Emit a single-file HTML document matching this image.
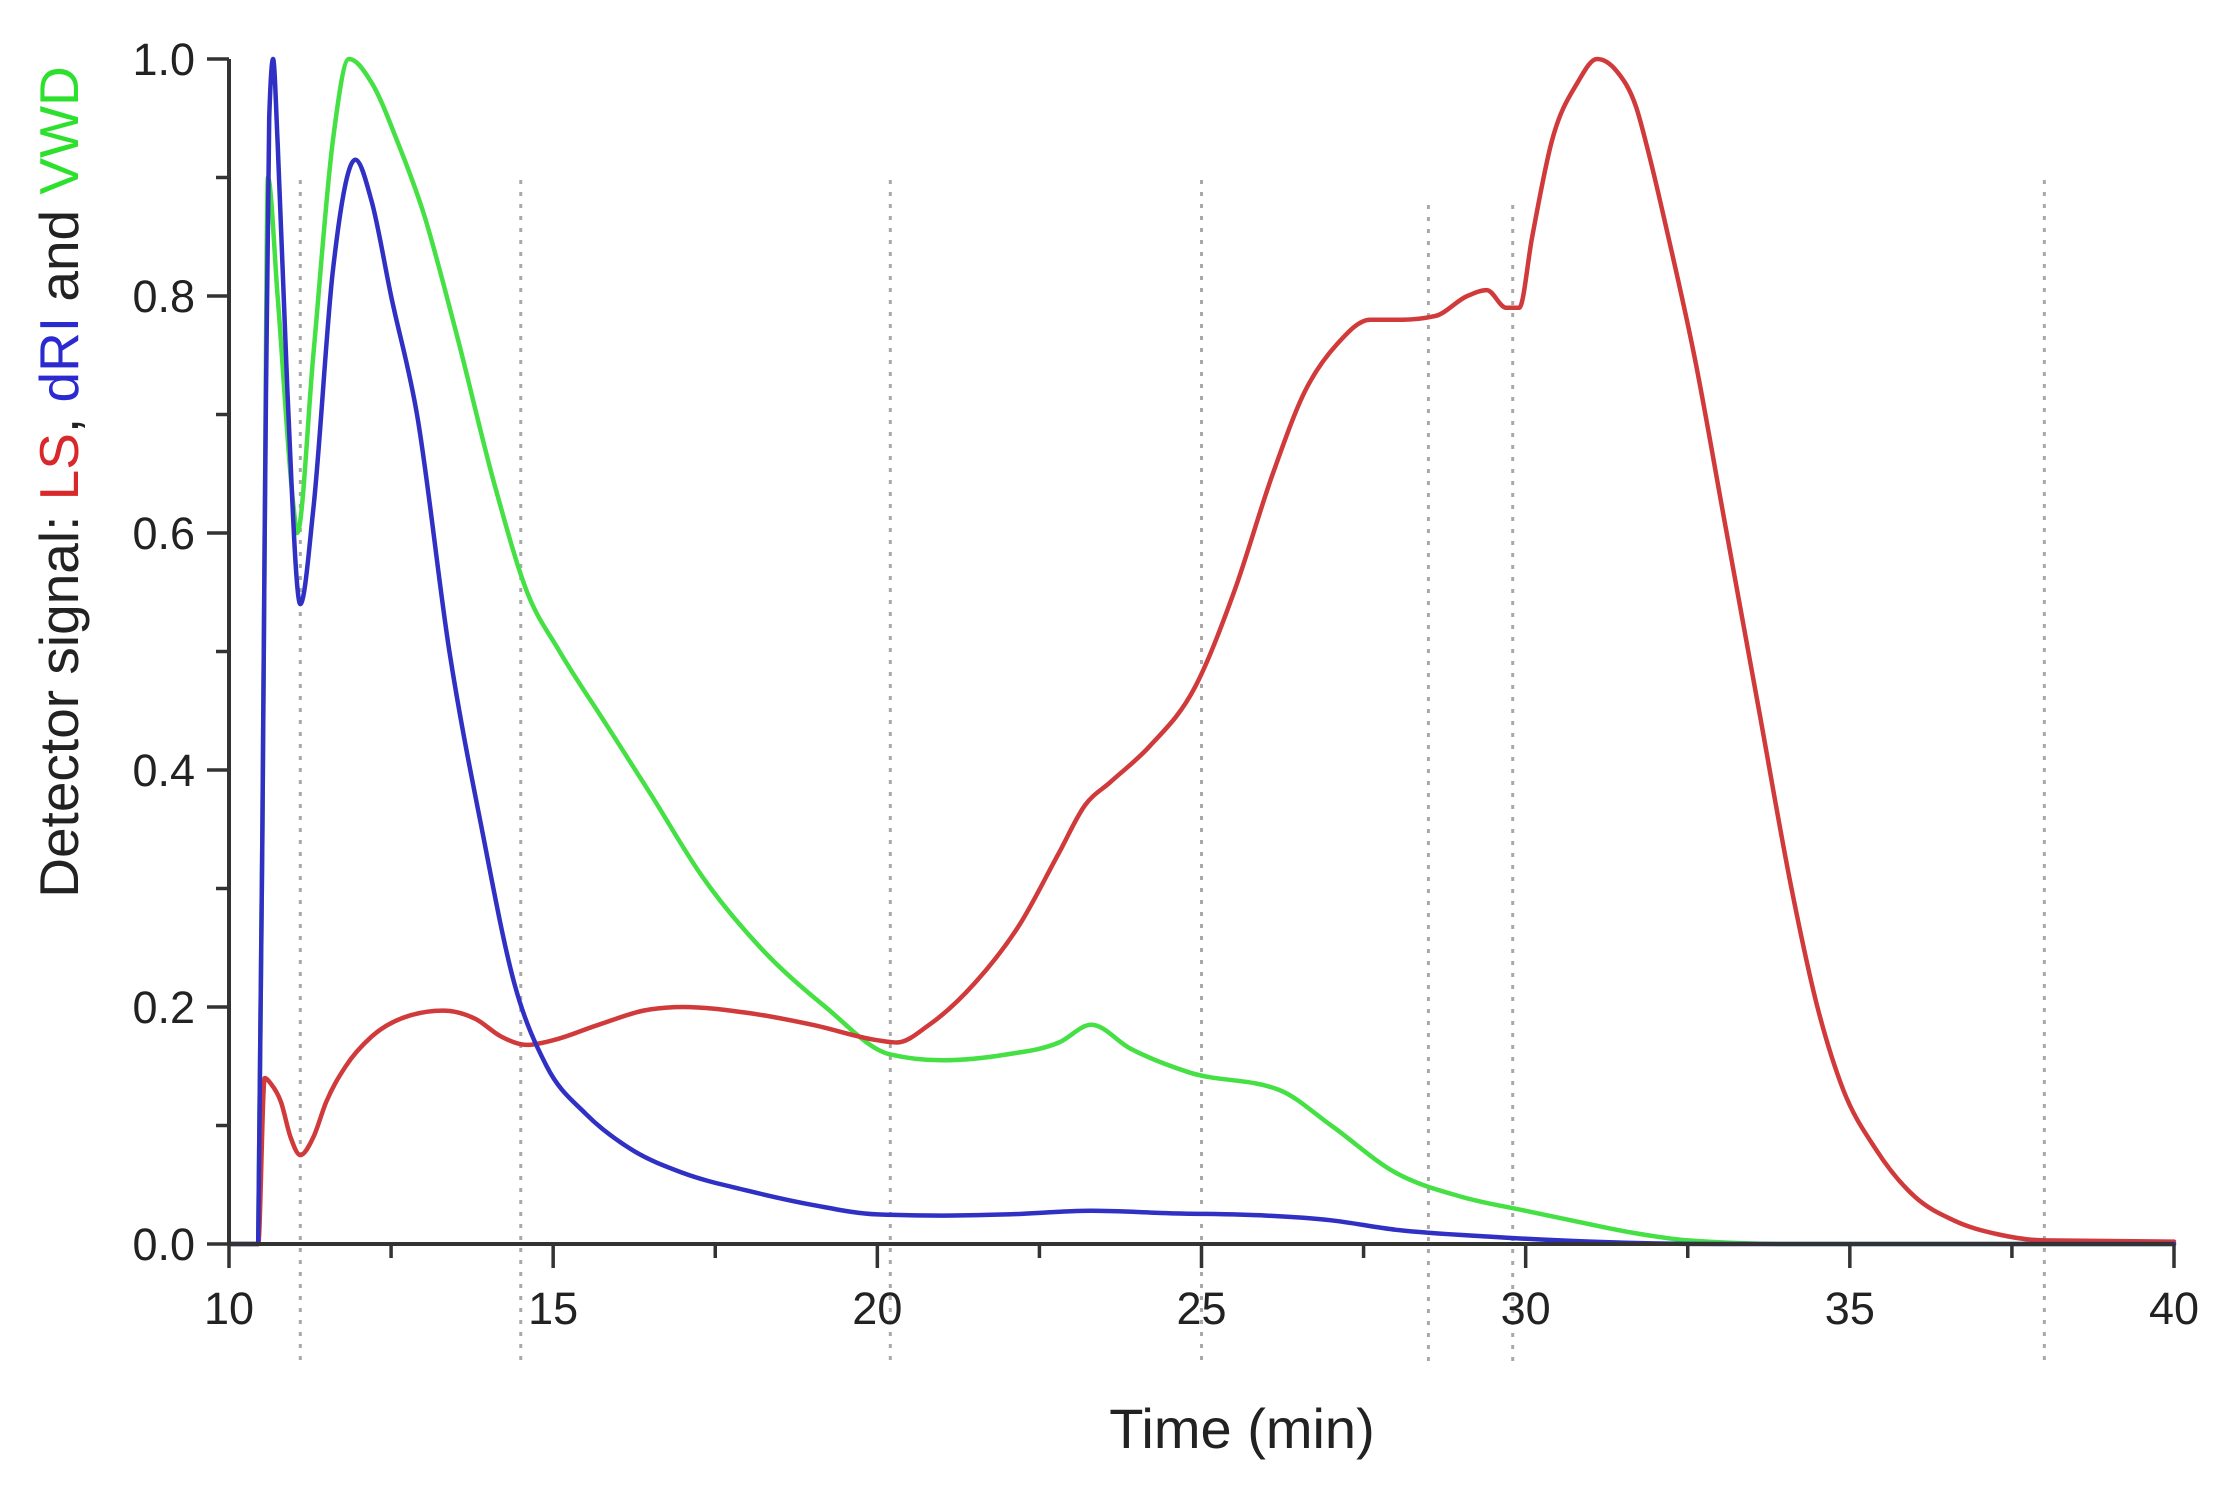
<!DOCTYPE html>
<html><head><meta charset="utf-8">
<style>
html,body{margin:0;padding:0;background:#fff;}
svg{display:block;font-family:"Liberation Sans",Arial,sans-serif;}
</style></head>
<body>
<svg id="chart" width="2231" height="1492" viewBox="0 0 2231 1492" xmlns="http://www.w3.org/2000/svg">
<rect width="2231" height="1492" fill="#fff"/>
<g id="guides"></g>
<g id="series"></g>
<g id="axes"></g>
<text x="1242" y="1448" font-size="56" text-anchor="middle" fill="#222">Time (min)</text>
<text transform="translate(78,482) rotate(-90)" font-size="55" text-anchor="middle" fill="#222"><tspan fill="#222">Detector signal: </tspan><tspan fill="#d8282a">LS</tspan><tspan fill="#222">, </tspan><tspan fill="#2a2ad0">dRI</tspan><tspan fill="#222"> and </tspan><tspan fill="#2ee02e">VWD</tspan></text>
</svg>
<script>
const xTicks=[10,15,20,25,30,35,40];
const xTickLabels=["10","15","20","25","30","35","40"];
const yTicks=[0,0.2,0.4,0.6,0.8,1.0];
const yTickLabels=["0.0","0.2","0.4","0.6","0.8","1.0"];
const guideTimes=[11.1,14.5,20.2,25.0,28.5,29.8,38.0];
const lsT=[10,10.45,10.55,10.65,10.8,10.95,11.1,11.3,11.5,11.8,12.2,12.8,13.3,13.8,14.2,14.6,15.0,15.7,16.5,17,18,19,20,20.3,20.8,21.5,22.2,22.8,23.2,23.6,24.2,24.9,25.5,26.1,26.6,27.1,27.6,28.1,28.6,29.1,29.4,29.7,29.9,30.1,30.4,30.8,31.1,31.4,31.7,31.9,32.2,32.6,33.1,33.6,34.1,34.5,34.9,35.4,36,36.6,37.3,38,40];
const lsV=[0,0,0.14,0.135,0.12,0.09,0.075,0.09,0.12,0.15,0.175,0.193,0.197,0.19,0.175,0.168,0.172,0.185,0.198,0.2,0.195,0.185,0.172,0.17,0.185,0.22,0.27,0.33,0.37,0.39,0.42,0.47,0.55,0.65,0.72,0.76,0.78,0.78,0.783,0.80,0.805,0.79,0.79,0.85,0.93,0.98,1.0,0.99,0.96,0.92,0.85,0.75,0.6,0.45,0.3,0.2,0.13,0.08,0.04,0.02,0.008,0.003,0.002];
const driT=[10,10.45,10.55,10.62,10.68,10.75,10.9,11.1,11.3,11.6,11.95,12.2,12.5,12.9,13.4,13.9,14.4,14.9,15.5,16.2,17,18,19,20,21,22,23.3,24.5,26,27,28,29.5,31,33,40];
const driV=[0,0,0.6,0.95,1.0,0.93,0.72,0.54,0.62,0.82,0.915,0.88,0.8,0.7,0.5,0.35,0.22,0.15,0.11,0.08,0.06,0.045,0.033,0.025,0.024,0.025,0.028,0.026,0.024,0.02,0.012,0.006,0.002,0,0];
const vwdT=[10,10.45,10.55,10.6,10.75,11.0,11.05,11.3,11.6,11.85,12.2,12.6,13.0,13.5,14.1,14.6,15.1,15.8,16.5,17.3,18.2,19.2,20.2,21,22,22.8,23.3,23.9,24.8,26.2,27.0,28,29,30,30.7,31.6,32.5,34,40];
const vwdV=[0,0,0.6,0.9,0.8,0.62,0.6,0.75,0.93,1.0,0.98,0.93,0.87,0.77,0.64,0.55,0.5,0.44,0.38,0.31,0.25,0.2,0.16,0.155,0.16,0.17,0.185,0.165,0.145,0.13,0.1,0.06,0.04,0.028,0.02,0.01,0.003,0,0];

const X0=229,X1=2174,Y0=1244,Y1=59;
const xs=t=>X0+(t-10)/30*(X1-X0);
const ys=v=>Y0-v*(Y0-Y1);
const NS="http://www.w3.org/2000/svg";
function mk(tag,attrs,parent){const e=document.createElementNS(NS,tag);for(const k in attrs)e.setAttribute(k,attrs[k]);parent.appendChild(e);return e;}
const axes=document.getElementById('axes'),guides=document.getElementById('guides'),series=document.getElementById('series');

guideTimes.forEach(t=>{
  const top=(t>28&&t<30)?205:180;
  const l=mk('line',{x1:xs(t),x2:xs(t),y1:top,y2:1366,stroke:'#a8a8a8','stroke-width':3,'stroke-dasharray':'4 8'},guides);
  
  
});

function monotonePath(P){
  const n=P.length,s=[],h=[],m=[];
  for(let i=0;i<n-1;i++){h[i]=P[i+1][0]-P[i][0];s[i]=(P[i+1][1]-P[i][1])/h[i];}
  m[0]=s[0];m[n-1]=s[n-2];
  for(let i=1;i<n-1;i++){
    if(s[i-1]*s[i]<=0){m[i]=0;continue;}
    const p=(s[i-1]*h[i]+s[i]*h[i-1])/(h[i-1]+h[i]);
    m[i]=(Math.sign(s[i-1])+Math.sign(s[i]))*Math.min(Math.abs(s[i-1]),Math.abs(s[i]),0.5*Math.abs(p));
  }
  let d=`M${P[0][0].toFixed(1)},${P[0][1].toFixed(1)}`;
  for(let i=0;i<n-1;i++){
    const dx=h[i]/3;
    d+=` C${(P[i][0]+dx).toFixed(1)},${(P[i][1]+m[i]*dx).toFixed(1)} ${(P[i+1][0]-dx).toFixed(1)},${(P[i+1][1]-m[i+1]*dx).toFixed(1)} ${P[i+1][0].toFixed(1)},${P[i+1][1].toFixed(1)}`;
  }
  return d;
}
function drawSeries(T,V,color,name){
  const P=T.map((t,i)=>[xs(t),ys(V[i])]);
  const p=mk('path',{d:monotonePath(P),fill:'none',stroke:color,'stroke-width':4.5,'stroke-linejoin':'round','stroke-linecap':'round'},series);
  
  
}
drawSeries(vwdT,vwdV,'#44e044','vwd-line');
drawSeries(lsT,lsV,'#d03a3a','ls-line');
drawSeries(driT,driV,'#3030c4','dri-line');

const ax=mk('path',{d:`M${X0},${Y1} L${X0},${Y0} L${X1},${Y0}`,fill:'none',stroke:'#333','stroke-width':4},axes);



for(let v=0;v<=1.0001;v+=0.1){
  const major=Math.round(v*10)%2===0;
  const t=mk('line',{x1:X0-(major?22:13),x2:X0,y1:ys(v),y2:ys(v),stroke:'#333','stroke-width':3.5},axes);
  
  
}
yTicks.forEach((v,i)=>{
  const tx=mk('text',{x:X0-34,y:ys(v)+16,'font-size':45,'text-anchor':'end',fill:'#222'},axes);
  tx.textContent=yTickLabels[i];
  
  
});
for(let t=10;t<=40.001;t+=2.5){
  const major=Math.round(t*2)%10===0;
  const l=mk('line',{x1:xs(t),x2:xs(t),y1:Y0,y2:Y0+(major?24:14),stroke:'#333','stroke-width':3.5},axes);
  
  
}
xTicks.forEach((t,i)=>{
  const tx=mk('text',{x:xs(t),y:1324,'font-size':45,'text-anchor':'middle',fill:'#222'},axes);
  tx.textContent=xTickLabels[i];
  
  
});
</script>
</body></html>
